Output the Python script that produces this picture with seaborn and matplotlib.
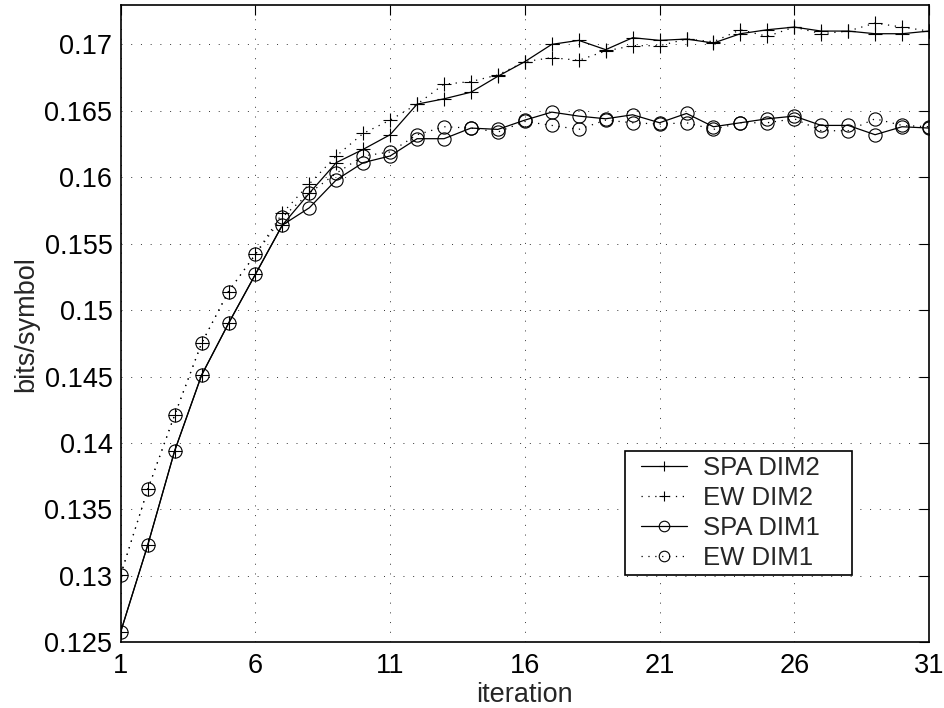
import matplotlib
matplotlib.use("Agg")
import matplotlib.pyplot as plt
import seaborn as sns
import numpy as np
import pandas as pd
from matplotlib.ticker import FuncFormatter
from matplotlib.lines import Line2D
from matplotlib.legend_handler import HandlerLine2D

iterations = list(range(1, 32))

spa_dim2 = [0.1258, 0.1323, 0.1394, 0.1451, 0.1490, 0.1527, 0.1564, 0.1588, 0.1611, 0.1621,
            0.1632, 0.1655, 0.1659, 0.1664, 0.1676, 0.1687, 0.1700, 0.1703, 0.1696, 0.1705,
            0.1703, 0.1704, 0.1701, 0.1708, 0.1711, 0.1713, 0.1710, 0.1710, 0.1708, 0.1708, 0.1710]
ew_dim2 = [0.1301, 0.1365, 0.1421, 0.1475, 0.1514, 0.1542, 0.1573, 0.1595, 0.1616, 0.1633,
           0.1643, 0.1655, 0.1670, 0.1672, 0.1677, 0.1687, 0.1690, 0.1688, 0.1695, 0.1699,
           0.1699, 0.1704, 0.1702, 0.1711, 0.1706, 0.1713, 0.1708, 0.1710, 0.1716, 0.1713, 0.1710]
spa_dim1 = [0.1258, 0.1323, 0.1394, 0.1451, 0.1490, 0.1527, 0.1564, 0.1577, 0.1598, 0.1611,
            0.1616, 0.1629, 0.1629, 0.1637, 0.1636, 0.1643, 0.1649, 0.1646, 0.1644, 0.1647,
            0.1641, 0.1648, 0.1638, 0.1641, 0.1644, 0.1646, 0.1639, 0.1639, 0.1632, 0.1638, 0.1637]
ew_dim1 = [0.1301, 0.1365, 0.1421, 0.1475, 0.1514, 0.1542, 0.1570, 0.1588, 0.1603, 0.1616,
           0.1619, 0.1632, 0.1638, 0.1637, 0.1634, 0.1642, 0.1639, 0.1636, 0.1643, 0.1641,
           0.1640, 0.1641, 0.1636, 0.1641, 0.1641, 0.1644, 0.1635, 0.1635, 0.1644, 0.1639, 0.1638]

series_names = ["SPA DIM2", "EW DIM2", "SPA DIM1", "EW DIM1"]
series_values = [spa_dim2, ew_dim2, spa_dim1, ew_dim1]
x_ticks = [1, 6, 11, 16, 21, 26, 31]
y_ticks = [0.125, 0.13, 0.135, 0.14, 0.145, 0.15, 0.155, 0.16, 0.165, 0.17]

sns.set_style("white")
plt.rcParams['font.family'] = ['Liberation Sans', 'DejaVu Sans']

fig = plt.figure(figsize=(9.44, 7.08), dpi=100)
ax = fig.add_axes([0.1279, 0.0928, 0.8562, 0.9001])

dotted = (0, (1, 4.5))
styles = {
    "SPA DIM2": dict(linestyle='-', marker='+', markersize=9.5, mew=0.8),
    "EW DIM2": dict(linestyle=dotted, marker='+', markersize=9.5, mew=0.8),
    "SPA DIM1": dict(linestyle='-', marker='o', markersize=9.5, mew=0.8, mfc='none'),
    "EW DIM1": dict(linestyle=dotted, marker='o', markersize=9.5, mew=0.8, mfc='none'),
}

for name, vals in zip(series_names, series_values):
    df = pd.DataFrame({"iteration": iterations, "value": vals})
    sns.lineplot(data=df, x="iteration", y="value", ax=ax, color='black',
                 linewidth=0.9, label=name, mec='black', **styles[name])

ax.set_xlim(1, 31)
ax.set_ylim(0.125, 0.17296)
ax.set_xticks(x_ticks)
ax.set_yticks(y_ticks)
ax.yaxis.set_major_formatter(FuncFormatter(lambda v, p: f"{v:g}"))
ax.grid(True, color='black', linestyle=(0, (1, 9)), linewidth=0.7, alpha=0.8)
ax.tick_params(direction='in', length=7, width=0.8, labelsize=19.5,
               top=True, right=True, colors='black', pad=6)
ax.tick_params(axis='x', pad=8)
for s in ax.spines.values():
    s.set_visible(True)
    s.set_color('black')
    s.set_linewidth(1.2)

ax.set_xlabel("iteration", fontsize=19.5, labelpad=2)
ax.set_ylabel("bits/symbol", fontsize=19.5, labelpad=4)

handles, labels = ax.get_legend_handles_labels()
leg = ax.legend(handles, labels, loc='lower left',
                bbox_to_anchor=(0.6245, 0.105, 0.2801, 0.2),
                mode='expand', fontsize=18.5, frameon=True, fancybox=False,
                framealpha=1, edgecolor='black', handlelength=2.2, markerscale=0.8,
                labelspacing=0.24, borderpad=0.2, handletextpad=0.62, borderaxespad=0,
                handler_map={Line2D: HandlerLine2D(xpad=0.39)})
leg.get_frame().set_linewidth(1.2)

fig.savefig("out.png", dpi=100)
